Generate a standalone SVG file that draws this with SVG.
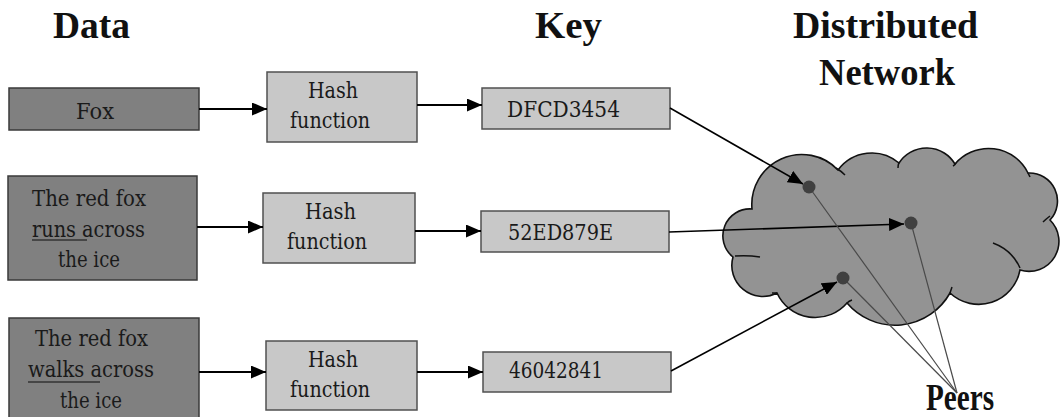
<svg xmlns="http://www.w3.org/2000/svg" width="1060" height="417" viewBox="0 0 1060 417">
  <style>
    .hdr { font-family: "Liberation Serif", "DejaVu Serif", serif; font-weight: bold; font-size: 37px; fill: #111; }
    .lbl { font-family: "DejaVu Serif", serif; font-size: 22px; fill: #1a1a1a; }
    .data { fill: #808080; stroke: #3a3a3a; stroke-width: 1.5; }
    .proc { fill: #c8c8c8; stroke: #505050; stroke-width: 1.5; }
    .flow { stroke: #000; stroke-width: 2.2; fill: none; marker-end: url(#ah); }
    .link { stroke: #000; stroke-width: 1.6; fill: none; marker-end: url(#ah); }
    .peer-line { stroke: #4a4a4a; stroke-width: 1.2; fill: none; }
    .ul { stroke: #333; stroke-width: 1.3; }
  </style>
  <defs>
    <marker id="ah" markerUnits="userSpaceOnUse" markerWidth="15" markerHeight="13" refX="15" refY="6.5" orient="auto">
      <path d="M0,0 L15,6.5 L0,13 Z" fill="#000"/>
    </marker>
  </defs>

  <rect width="1060" height="417" fill="#fff"/>

  <!-- column headings -->
  <g id="headings">
    <text class="hdr" x="53" y="38" textLength="77" lengthAdjust="spacingAndGlyphs">Data</text>
    <text class="hdr" x="535" y="38" textLength="67" lengthAdjust="spacingAndGlyphs">Key</text>
    <text class="hdr" x="793" y="38" textLength="185" lengthAdjust="spacingAndGlyphs">Distributed</text>
    <text class="hdr" x="819" y="85" textLength="136" lengthAdjust="spacingAndGlyphs">Network</text>
  </g>

  <!-- network cloud -->
  <g id="network">
    <path d="M733,257 A27,27 0 0 1 752,209 A50,50 0 0 1 838,170 A42,42 0 0 1 899,163 A33,33 0 0 1 955,164 A44,44 0 0 1 1028,173 A28,28 0 0 1 1050,220 A30,30 0 0 1 1020,270 A42,42 0 0 1 950,293 A63,63 0 0 1 847,303 A42,42 0 0 1 777,293 A31,31 0 0 1 733,257 Z" fill="#939393" stroke="#111" stroke-width="1.6"/>
    <g fill="none" stroke="#111" stroke-width="1.5">
      <path d="M735,256 Q748,255 760,257"/>
      <path d="M836,168 Q841,171 845,175"/>
      <path d="M899,162 Q898,165 898,168"/>
      <path d="M956,163 Q955,165 953,166"/>
      <path d="M1028,173 Q1029,175 1030,177"/>
      <path d="M1050,216 Q1046,219 1043,222"/>
      <path d="M993,243 Q1012,250 1020,268"/>
      <path d="M950,293 Q951,290 952,287"/>
      <path d="M847,303 Q849,301 852,300"/>
      <path d="M777,293 Q775,293 772,293"/>
    </g>
  </g>

  <!-- row 1 -->
  <g id="data-fox">
    <rect class="data" x="9" y="88" width="190" height="42"/>
    <text class="lbl" x="76" y="119" textLength="38" lengthAdjust="spacingAndGlyphs">Fox</text>
  </g>
  <g id="hash-1">
    <rect class="proc" x="267" y="72" width="150" height="70"/>
    <text class="lbl" x="308" y="98" textLength="50" lengthAdjust="spacingAndGlyphs">Hash</text>
    <text class="lbl" x="290" y="128" textLength="80" lengthAdjust="spacingAndGlyphs">function</text>
  </g>
  <g id="key-1">
    <rect class="proc" x="482" y="88" width="188" height="41"/>
    <text class="lbl" x="507" y="117" textLength="113" lengthAdjust="spacingAndGlyphs">DFCD3454</text>
  </g>

  <!-- row 2 -->
  <g id="data-runs">
    <rect class="data" x="8" y="176" width="189" height="104"/>
    <text class="lbl" x="32" y="206" textLength="114" lengthAdjust="spacingAndGlyphs">The red fox</text>
    <text class="lbl" x="32" y="237" textLength="113" lengthAdjust="spacingAndGlyphs">runs across</text>
    <text class="lbl" x="58" y="267" textLength="62" lengthAdjust="spacingAndGlyphs">the ice</text>
    <line class="ul" x1="32" y1="240" x2="87" y2="240"/>
  </g>
  <g id="hash-2">
    <rect class="proc" x="263" y="193" width="152" height="70"/>
    <text class="lbl" x="305" y="219" textLength="51" lengthAdjust="spacingAndGlyphs">Hash</text>
    <text class="lbl" x="287" y="249" textLength="80" lengthAdjust="spacingAndGlyphs">function</text>
  </g>
  <g id="key-2">
    <rect class="proc" x="481" y="211" width="188" height="41"/>
    <text class="lbl" x="508" y="240" textLength="105" lengthAdjust="spacingAndGlyphs">52ED879E</text>
  </g>

  <!-- row 3 -->
  <g id="data-walks">
    <rect class="data" x="9" y="318" width="190" height="104"/>
    <text class="lbl" x="35" y="346" textLength="113" lengthAdjust="spacingAndGlyphs">The red fox</text>
    <text class="lbl" x="28" y="377" textLength="126" lengthAdjust="spacingAndGlyphs">walks across</text>
    <text class="lbl" x="60" y="408" textLength="62" lengthAdjust="spacingAndGlyphs">the ice</text>
    <line class="ul" x1="28" y1="382" x2="100" y2="382"/>
  </g>
  <g id="hash-3">
    <rect class="proc" x="266" y="341" width="151" height="69"/>
    <text class="lbl" x="308" y="367" textLength="50" lengthAdjust="spacingAndGlyphs">Hash</text>
    <text class="lbl" x="290" y="397" textLength="80" lengthAdjust="spacingAndGlyphs">function</text>
  </g>
  <g id="key-3">
    <rect class="proc" x="483" y="352" width="188" height="40"/>
    <text class="lbl" x="509" y="378" textLength="94" lengthAdjust="spacingAndGlyphs">46042841</text>
  </g>

  <!-- connectors -->
  <g id="connectors">
    <line class="flow" x1="199" y1="109" x2="267" y2="109"/>
    <line class="flow" x1="417" y1="105" x2="482" y2="105"/>
    <line class="flow" x1="197" y1="227" x2="263" y2="227"/>
    <line class="flow" x1="415" y1="231" x2="481" y2="231"/>
    <line class="flow" x1="199" y1="372" x2="266" y2="372"/>
    <line class="flow" x1="417" y1="372" x2="483" y2="372"/>
    <line class="link" x1="670" y1="108" x2="803" y2="184"/>
    <line class="link" x1="669" y1="232" x2="904" y2="224"/>
    <line class="link" x1="671" y1="371" x2="837" y2="282"/>
    <line class="peer-line" x1="809" y1="187" x2="957" y2="393"/>
    <line class="peer-line" x1="911" y1="223" x2="957" y2="393"/>
    <line class="peer-line" x1="843" y1="278" x2="957" y2="393"/>
  </g>

  <!-- peers -->
  <g id="peers">
    <circle cx="809" cy="187" r="6.5" fill="#404040"/>
    <circle cx="911" cy="223" r="6.5" fill="#404040"/>
    <circle cx="843" cy="278" r="6.5" fill="#404040"/>
    <text class="hdr" x="926" y="410" font-size="26" textLength="68" lengthAdjust="spacingAndGlyphs">Peers</text>
  </g>
</svg>
